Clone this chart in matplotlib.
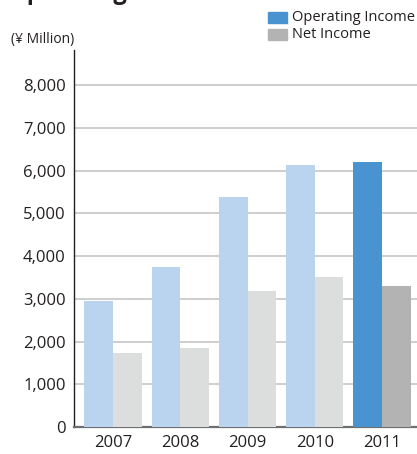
import matplotlib
matplotlib.use("Agg")
import matplotlib.pyplot as plt
from matplotlib.patches import Rectangle

years = ["2007", "2008", "2009", "2010", "2011"]
operating_income = [2950, 3750, 5380, 6120, 6195]
net_income = [1730, 1850, 3185, 3515, 3300]
yticks = [0, 1000, 2000, 3000, 4000, 5000, 6000, 7000, 8000]

op_colors = ["#bad3ee"] * 4 + ["#4893d0"]
net_colors = ["#dcdddd"] * 4 + ["#b3b3b3"]

plt.rcParams['font.family'] = ['Open Sans', 'DejaVu Sans']

W, H = 417, 454
fig = plt.figure(figsize=(W / 100, H / 100), dpi=100)
ax = fig.add_axes([74 / W, (H - 427) / H, (417 - 74) / W, (427 - 50) / H])

x = list(range(len(years)))
w = 0.427
ax.bar([i - w / 2 for i in x], operating_income, width=w, color=op_colors, zorder=3)
ax.bar([i + w / 2 for i in x], net_income, width=w, color=net_colors, zorder=3)

ax.set_ylim(0, 8820)
ax.set_xlim(-0.58, 4.52)
ax.set_yticks(yticks)
ax.set_yticklabels([f"{v:,}" for v in yticks], fontsize=12, color="#231f20")
ax.set_xticks(x)
ax.set_xticklabels(years, fontsize=12, color="#231f20")
ax.tick_params(axis="y", length=0, pad=6)
ax.tick_params(axis="x", length=0, pad=6)
ax.yaxis.grid(True, color="#c6c6c6", linewidth=1.2, zorder=0)
ax.set_axisbelow(True)
for s in ["top", "right"]:
    ax.spines[s].set_visible(False)
ax.spines["left"].set_color("#231f20")
ax.spines["bottom"].set_color("#6d6e71")
ax.spines["bottom"].set_linewidth(1.6)
ax.spines["left"].set_linewidth(1.0)

# title, clipped by the top edge as in the reference
fig.text(8 / W, 1 + 1 / H, "Operating Income / Net Income", fontsize=17, fontweight="bold",
         color="#231f20", ha="left", va="baseline")

fig.text(11 / W, 1 - 40 / H, "(¥ Million)", fontsize=10, color="#231f20", ha="left", va="center")

# legend
for j, (lab, col) in enumerate([("Operating Income", "#4893d0"), ("Net Income", "#b3b3b3")]):
    yc = 17.5 + j * 17
    fig.patches.append(Rectangle((268 / W, 1 - (yc + 5.5) / H), 19 / W, 11 / H,
                                 transform=fig.transFigure, color=col))
    fig.text(292 / W, 1 - yc / H, lab, fontsize=10.5, color="#231f20", ha="left", va="center")

fig.savefig("out.png", dpi=100)
